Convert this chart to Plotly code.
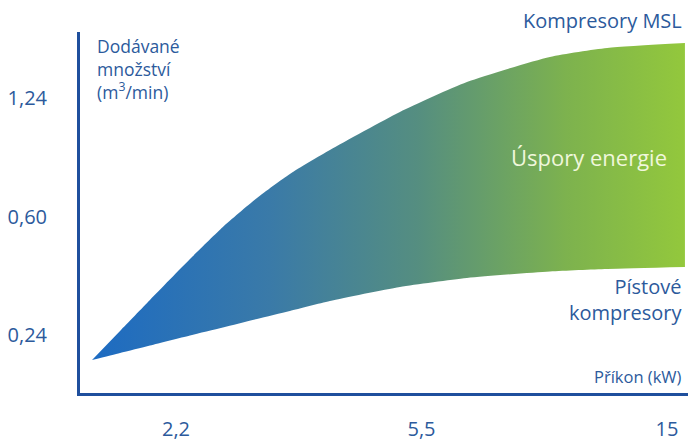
import plotly.graph_objects as go

# Positions along axes expressed in tick-index units (2,2 -> 1, 5,5 -> 2, 15 -> 3 ; 0,24 -> 1, 0,60 -> 2, 1,24 -> 3)
x_pos = [0.658, 0.772, 0.894, 1.057, 1.191, 1.330, 1.464, 1.627, 1.912, 2.185, 2.523, 2.756, 3.073]
msl_upper = [0.789, 1.034, 1.295, 1.641, 1.911, 2.156, 2.359, 2.561, 2.882, 3.135, 3.346, 3.422, 3.464]
piston_lower = [0.789, 0.848, 0.911, 0.996, 1.063, 1.135, 1.203, 1.287, 1.405, 1.481, 1.536, 1.557, 1.574]

x_tickvals = [1, 2, 3]
x_ticktext = ["2,2", "5,5", "15"]
y_tickvals = [1, 2, 3]
y_ticktext = ["0,24", "0,60", "1,24"]

W, H = 688, 442
L, R, T, B = 80, 0, 32, 49
PW, PH = W - L - R, H - T - B

def px(x):
    return (x - L) / PW

def py(y):
    return (H - B - y) / PH

FONT = "Open Sans"
TXT = "#2c5a9c"
AX = "#1f4f9d"

fig = go.Figure()
fig.add_trace(go.Scatter(x=x_pos, y=piston_lower, mode="lines",
                         line=dict(width=0, shape="spline", smoothing=0.6, color="rgba(0,0,0,0)"),
                         hoverinfo="skip", showlegend=False))
fig.add_trace(go.Scatter(x=x_pos, y=msl_upper, mode="lines", fill="tonexty",
                         line=dict(width=0, shape="spline", smoothing=0.6, color="rgba(0,0,0,0)"),
                         fillgradient=dict(type="horizontal",
                                           colorscale=[[0, "#1d6bc2"], [0.3, "#3a7aa8"],
                                                       [0.55, "#558e80"], [0.8, "#7db24e"],
                                                       [1, "#93c83c"]]),
                         hoverinfo="skip", showlegend=False))

fig.update_layout(
    width=W, height=H,
    margin=dict(l=L, r=R, t=T, b=B),
    paper_bgcolor="white", plot_bgcolor="white",
    font=dict(family=FONT, color=TXT),
    xaxis=dict(range=[0.609, 3.0855], tickvals=x_tickvals, ticktext=x_ticktext,
               showgrid=False, zeroline=False, showline=True, linewidth=3, linecolor=AX,
               ticks="", ticklabelstandoff=16, tickfont=dict(size=20, color=TXT, family=FONT)),
    yaxis=dict(range=[0.5105, 3.557], tickvals=y_tickvals, ticktext=y_ticktext,
               showgrid=False, zeroline=False, showline=True, linewidth=3, linecolor=AX,
               ticks="", ticklabelstandoff=26, tickfont=dict(size=20, color=TXT, family=FONT)),
)

ann = [
    dict(text="Dodávané<br>množství<br>(m<sup>3</sup>/min)", x=px(95), y=py(69), xanchor="left",
         yanchor="middle", align="left", font=dict(size=17.5, color=TXT)),
    dict(text="Kompresory MSL", x=px(684), y=py(20), xanchor="right", yanchor="middle",
         font=dict(size=20, color=TXT)),
    dict(text="Úspory energie", x=px(669), y=py(157), xanchor="right", yanchor="middle",
         font=dict(size=22, color="#f0f7dc")),
    dict(text="Pístové<br>kompresory", x=px(684), y=py(299), xanchor="right", yanchor="middle",
         align="right", font=dict(size=20, color=TXT)),
    dict(text="Příkon (kW)", x=px(684), y=py(376), xanchor="right", yanchor="middle",
         font=dict(size=16.5, color=TXT)),
]
for a in ann:
    a.update(xref="paper", yref="paper", showarrow=False)
fig.update_layout(annotations=ann)

fig.write_html("out.html", config={"displayModeBar": False},
               post_script="document.body.style.margin='0';document.body.style.overflow='hidden';")
